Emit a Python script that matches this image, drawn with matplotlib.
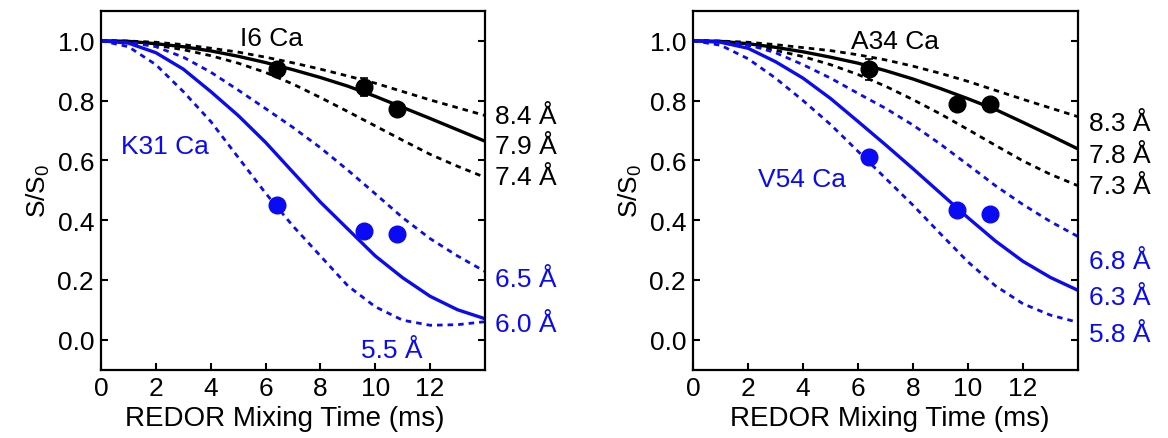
import matplotlib
matplotlib.use("Agg")
import matplotlib.pyplot as plt

# === DATA ===
t_ms = [0, 1, 2, 3, 4, 5, 6, 7, 8, 9, 10, 11, 12, 13, 14]

# left panel: I6 Ca (black) / K31 Ca (blue)
i6_84 = [1.0, 0.999, 0.995, 0.987, 0.975, 0.962, 0.945, 0.926, 0.905, 0.882, 0.858, 0.830, 0.802, 0.776, 0.750]
i6_79 = [1.0, 0.998, 0.990, 0.980, 0.966, 0.948, 0.927, 0.903, 0.877, 0.848, 0.814, 0.777, 0.740, 0.702, 0.664]
i6_74 = [1.0, 0.997, 0.985, 0.970, 0.950, 0.925, 0.894, 0.855, 0.810, 0.763, 0.715, 0.667, 0.620, 0.580, 0.543]
k31_65 = [1.0, 0.995, 0.980, 0.945, 0.895, 0.835, 0.773, 0.710, 0.642, 0.567, 0.488, 0.408, 0.338, 0.280, 0.228]
k31_60 = [1.0, 0.992, 0.960, 0.905, 0.830, 0.750, 0.660, 0.560, 0.460, 0.370, 0.280, 0.207, 0.145, 0.100, 0.070]
k31_55 = [1.0, 0.980, 0.920, 0.830, 0.730, 0.610, 0.490, 0.380, 0.280, 0.180, 0.110, 0.065, 0.048, 0.050, 0.060]

i6_t = [6.4, 9.6, 10.8]
i6_val = [0.905, 0.845, 0.770]
i6_err = [0.02, 0.03, 0.01]
k31_t = [6.4, 9.6, 10.8]
k31_val = [0.450, 0.365, 0.355]

# right panel: A34 Ca (black) / V54 Ca (blue)
a34_83 = [1.0, 0.999, 0.995, 0.987, 0.977, 0.967, 0.953, 0.936, 0.915, 0.891, 0.864, 0.834, 0.804, 0.775, 0.746]
a34_78 = [1.0, 0.998, 0.990, 0.978, 0.963, 0.945, 0.925, 0.900, 0.872, 0.840, 0.806, 0.770, 0.727, 0.683, 0.638]
a34_73 = [1.0, 0.997, 0.985, 0.968, 0.947, 0.920, 0.887, 0.848, 0.803, 0.755, 0.703, 0.650, 0.598, 0.553, 0.515]
v54_68 = [1.0, 0.997, 0.987, 0.960, 0.920, 0.875, 0.824, 0.774, 0.718, 0.654, 0.585, 0.515, 0.452, 0.395, 0.345]
v54_63 = [1.0, 0.995, 0.975, 0.930, 0.875, 0.807, 0.730, 0.652, 0.572, 0.490, 0.408, 0.330, 0.262, 0.208, 0.165]
v54_58 = [1.0, 0.985, 0.940, 0.875, 0.800, 0.720, 0.630, 0.540, 0.450, 0.354, 0.260, 0.180, 0.120, 0.082, 0.058]

a34_t = [6.4, 9.6, 10.8]
a34_val = [0.905, 0.790, 0.787]
a34_err = [0.035, 0.01, 0.01]
v54_t = [6.4, 9.6, 10.8]
v54_val = [0.610, 0.435, 0.420]

left_dist = ["8.4 Å", "7.9 Å", "7.4 Å", "6.5 Å", "6.0 Å"]
right_dist = ["8.3 Å", "7.8 Å", "7.3 Å", "6.8 Å", "6.3 Å", "5.8 Å"]

# === STYLE ===
plt.rcParams['font.family'] = ['Liberation Sans', 'DejaVu Sans']
BLUE = "#0a0af5"
DASH = (0, (2.0, 1.8))
FS = 19


def setup_axes(ax, xlab_pos=0.5):
    ax.set_xlim(0, 14)
    ax.set_ylim(-0.1, 1.1)
    ax.set_xticks([0, 2, 4, 6, 8, 10, 12])
    ax.set_yticks([0.0, 0.2, 0.4, 0.6, 0.8, 1.0])
    ax.set_yticklabels([f"{v:.1f}" for v in [0.0, 0.2, 0.4, 0.6, 0.8, 1.0]])
    ax.tick_params(direction='in', length=5, width=1.5, labelsize=FS,
                   right=True, top=False, pad=5)
    for s in ax.spines.values():
        s.set_linewidth(1.6)
    ax.set_xlabel("REDOR Mixing Time (ms)", fontsize=20)
    ax.xaxis.set_label_coords(xlab_pos, -0.1)
    ax.xaxis.label.set_va('top')
    ax.set_ylabel(r"S/S$_\mathregular{0}$", fontsize=FS, labelpad=4)


def draw_panel(ax, black, blue, bdots, bludots, err):
    # outer curves dashed, best fit solid
    ax.plot(t_ms, black[0], color='black', lw=2.0, ls=DASH)
    ax.plot(t_ms, black[2], color='black', lw=2.0, ls=DASH)
    ax.plot(t_ms, black[1], color='black', lw=2.4)
    ax.plot(t_ms, blue[0], color=BLUE, lw=2.0, ls=DASH)
    ax.plot(t_ms, blue[2], color=BLUE, lw=2.0, ls=DASH)
    ax.plot(t_ms, blue[1], color=BLUE, lw=2.4)
    ax.errorbar(bdots[0], bdots[1], yerr=err, fmt='o', color='black', ms=12,
                capsize=3, elinewidth=1.2, capthick=1.2, zorder=5)
    ax.plot(bludots[0], bludots[1], 'o', color=BLUE, ms=12, zorder=5)


fig = plt.figure(figsize=(11.68, 4.39), dpi=100)
ax1 = fig.add_axes([0.0865, 0.156, 0.3287, 0.817])
ax2 = fig.add_axes([0.5933, 0.156, 0.3296, 0.817])

# === LEFT PANEL ===
draw_panel(ax1, [i6_84, i6_79, i6_74], [k31_65, k31_60, k31_55],
           [i6_t, i6_val], [k31_t, k31_val], i6_err)
setup_axes(ax1, 0.478)
ax1.text(6.2, 0.987, "I6 Ca", fontsize=FS, ha='center', va='baseline')
ax1.text(2.33, 0.623, "K31 Ca", fontsize=FS, ha='center', va='baseline', color=BLUE)
for lab, y, c in zip(left_dist, [0.724, 0.623, 0.522, 0.181, 0.030],
                     ['black'] * 3 + [BLUE] * 2):
    ax1.text(14.35, y, lab, fontsize=FS, ha='left', va='baseline', color=c, clip_on=False)
ax1.text(10.6, -0.059, "5.5 Å", fontsize=FS, ha='center', va='baseline', color=BLUE)

# === RIGHT PANEL ===
draw_panel(ax2, [a34_83, a34_78, a34_73], [v54_68, v54_63, v54_58],
           [a34_t, a34_val], [v54_t, v54_val], a34_err)
setup_axes(ax2, 0.51)
ax2.text(7.36, 0.977, "A34 Ca", fontsize=FS, ha='center', va='baseline')
ax2.text(3.97, 0.513, "V54 Ca", fontsize=FS, ha='center', va='baseline', color=BLUE)
for lab, y, c in zip(right_dist, [0.702, 0.595, 0.489, 0.241, 0.120, -0.003],
                     ['black'] * 3 + [BLUE] * 3):
    ax2.text(14.39, y, lab, fontsize=FS, ha='left', va='baseline', color=c, clip_on=False)

fig.savefig("out.png", dpi=100)
